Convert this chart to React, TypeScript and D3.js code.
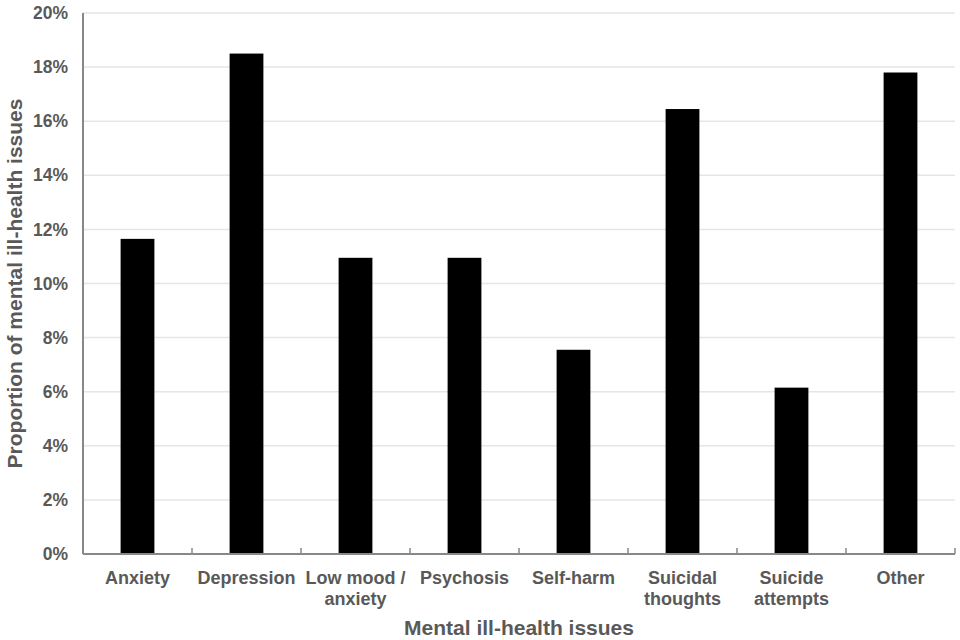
import React from "react";
import * as d3 from "d3";

const categories = [
  ["Anxiety"],
  ["Depression"],
  ["Low mood /", "anxiety"],
  ["Psychosis"],
  ["Self-harm"],
  ["Suicidal", "thoughts"],
  ["Suicide", "attempts"],
  ["Other"],
];
const values = [11.65, 18.5, 10.95, 10.95, 7.55, 16.45, 6.15, 17.8];
const yTicks = [0, 2, 4, 6, 8, 10, 12, 14, 16, 18, 20];

const W = 960;
const H = 640;
const M = { left: 83, right: 5, top: 13, bottom: 86 };

export default function App() {
  const x = d3
    .scaleBand<number>()
    .domain(categories.map((_, i) => i))
    .range([M.left, W - M.right])
    .paddingInner(0)
    .paddingOuter(0);
  const y = d3.scaleLinear().domain([0, 20]).range([H - M.bottom, M.top]);
  const bw = x.bandwidth() * 0.31;
  const font = "'Liberation Sans', Arial, sans-serif";
  const textColor = "#595959";
  const y0 = y(0);

  return (
    <svg
      width={W}
      height={H}
      style={{ position: "absolute", left: 0, top: 0, background: "#fff" }}
      fontFamily={font}
    >
      {yTicks.map((t) => (
        <g key={t}>
          {t > 0 && (
            <line x1={M.left} x2={W - M.right} y1={y(t)} y2={y(t)} stroke="#e6e6e6" strokeWidth={1.5} />
          )}
          <text
            x={M.left - 15}
            y={y(t)}
            dy="0.35em"
            textAnchor="end"
            fontSize={17.5}
            fontWeight="bold"
            fill={textColor}
          >
            {t}%
          </text>
        </g>
      ))}
      {values.map((v, i) => (
        <rect
          key={i}
          x={(x(i) as number) + x.bandwidth() / 2 - bw / 2}
          y={y(v)}
          width={bw}
          height={y0 - y(v)}
          fill="#000"
        />
      ))}
      <line x1={M.left} x2={M.left} y1={M.top} y2={y0} stroke="#888" strokeWidth={2} />
      <line x1={M.left} x2={W - M.right} y1={y0} y2={y0} stroke="#888" strokeWidth={2} />
      {categories.map((_, i) => {
        const tx = (x(i) as number) + x.bandwidth();
        return <line key={i} x1={tx} x2={tx} y1={y0} y2={y0 - 6} stroke="#888" strokeWidth={1.5} />;
      })}
      {categories.map((lines, i) => {
        const cx = (x(i) as number) + x.bandwidth() / 2;
        return (
          <text key={i} textAnchor="middle" fontSize={18} fontWeight="bold" fill={textColor}>
            {lines.map((l, j) => (
              <tspan key={j} x={cx} y={584 + j * 21}>
                {l}
              </tspan>
            ))}
          </text>
        );
      })}
      <text
        x={(M.left + W - M.right) / 2}
        y={635}
        textAnchor="middle"
        fontSize={21}
        fontWeight="bold"
        fill={textColor}
      >
        Mental ill-health issues
      </text>
      <text
        transform={`translate(22, ${(M.top + y0) / 2}) rotate(-90)`}
        textAnchor="middle"
        fontSize={21}
        fontWeight="bold"
        fill={textColor}
      >
        Proportion of mental ill-health issues
      </text>
    </svg>
  );
}
